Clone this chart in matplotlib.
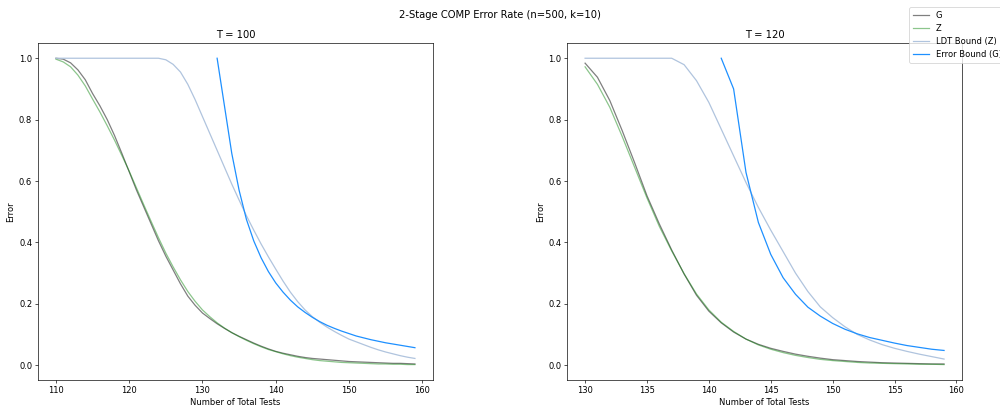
import numpy as np
import matplotlib
matplotlib.use("Agg")
import matplotlib.pyplot as plt

# T = 100 panel
tests_100 = list(range(110, 160))
g_100 = [1.0, 0.997, 0.985, 0.962, 0.93, 0.885, 0.845, 0.8, 0.748, 0.69,
         0.63, 0.57, 0.515, 0.46, 0.405, 0.355, 0.31, 0.265, 0.225, 0.195,
         0.17, 0.152, 0.135, 0.12, 0.106, 0.094, 0.083, 0.072, 0.062, 0.053,
         0.045, 0.039, 0.034, 0.029, 0.025, 0.022, 0.02, 0.018, 0.016, 0.014,
         0.012, 0.011, 0.01, 0.009, 0.008, 0.007, 0.006, 0.006, 0.005, 0.004]
z_100 = [0.997, 0.988, 0.972, 0.945, 0.91, 0.867, 0.825, 0.78, 0.733, 0.683,
         0.632, 0.577, 0.522, 0.468, 0.415, 0.365, 0.32, 0.278, 0.24, 0.208,
         0.18, 0.158, 0.138, 0.121, 0.106, 0.093, 0.081, 0.07, 0.06, 0.051,
         0.044, 0.037, 0.031, 0.026, 0.022, 0.018, 0.015, 0.013, 0.011, 0.009,
         0.008, 0.007, 0.006, 0.005, 0.004, 0.004, 0.003, 0.003, 0.002, 0.002]
ldt_100 = [1.0, 1.0, 1.0, 1.0, 1.0, 1.0, 1.0, 1.0, 1.0, 1.0,
           1.0, 1.0, 1.0, 1.0, 1.0, 0.995, 0.98, 0.955, 0.915, 0.865,
           0.81, 0.755, 0.7, 0.645, 0.59, 0.538, 0.487, 0.44, 0.395, 0.353,
           0.313, 0.274, 0.238, 0.207, 0.18, 0.158, 0.14, 0.124, 0.11, 0.097,
           0.085, 0.076, 0.067, 0.058, 0.05, 0.043, 0.037, 0.031, 0.026, 0.022]
bound_tests_100 = list(range(132, 160))
bound_100 = [1.0, 0.845, 0.69, 0.57, 0.475, 0.405, 0.35, 0.305, 0.268, 0.238,
             0.212, 0.19, 0.172, 0.156, 0.142, 0.13, 0.12, 0.111, 0.103, 0.095,
             0.089, 0.083, 0.078, 0.073, 0.069, 0.065, 0.061, 0.057]

# T = 120 panel
tests_120 = list(range(130, 160))
g_120 = [0.984, 0.938, 0.862, 0.764, 0.66, 0.552, 0.46, 0.375, 0.297, 0.228,
         0.176, 0.138, 0.108, 0.085, 0.068, 0.055, 0.045, 0.036, 0.029, 0.023,
         0.018, 0.015, 0.012, 0.01, 0.008, 0.007, 0.006, 0.005, 0.004, 0.004]
z_120 = [0.972, 0.915, 0.84, 0.745, 0.645, 0.545, 0.452, 0.372, 0.298, 0.232,
         0.18, 0.14, 0.11, 0.085, 0.066, 0.052, 0.041, 0.032, 0.025, 0.019,
         0.015, 0.012, 0.009, 0.007, 0.006, 0.005, 0.004, 0.003, 0.003, 0.002]
ldt_120 = [1.0, 1.0, 1.0, 1.0, 1.0, 1.0, 1.0, 1.0, 0.979, 0.927,
           0.856, 0.769, 0.682, 0.595, 0.514, 0.44, 0.37, 0.3, 0.24, 0.19,
           0.155, 0.125, 0.1, 0.082, 0.067, 0.055, 0.045, 0.036, 0.028, 0.02]
bound_tests_120 = list(range(141, 160))
bound_120 = [1.0, 0.9, 0.628, 0.465, 0.361, 0.285, 0.231, 0.189, 0.16, 0.136,
             0.117, 0.102, 0.09, 0.081, 0.072, 0.064, 0.058, 0.052, 0.048]

panels = [
    ("T = 100", tests_100, g_100, z_100, ldt_100, bound_tests_100, bound_100, np.arange(110, 161, 10)),
    ("T = 120", tests_120, g_120, z_120, ldt_120, bound_tests_120, bound_120, np.arange(130, 161, 5)),
]

fig, axes = plt.subplots(1, 2, figsize=(1000 / 60, 405 / 60), dpi=60)
fig.subplots_adjust(left=0.038, right=0.962, bottom=0.062, top=0.894, wspace=0.34)

for ax, (title, x, g, z, ldt, bx, bnd, xt) in zip(axes, panels):
    ax.plot(x, g, color="black", alpha=0.5, label="G")
    ax.plot(x, z, color="green", alpha=0.45, label="Z")
    ax.plot(x, ldt, color="lightsteelblue", label="LDT Bound (Z)")
    ax.plot(bx, bnd, color="dodgerblue", label="Error Bound (G)")
    ax.set_title(title)
    ax.set_xlabel("Number of Total Tests")
    ax.set_ylabel("Error")
    ax.set_xticks(xt)

handles, labels = axes[0].get_legend_handles_labels()
fig.legend(handles, labels, loc="upper left", bbox_to_anchor=(0.905, 0.992))
fig.suptitle("2-Stage COMP Error Rate (n=500, k=10)", y=0.975)

fig.savefig("out.png", dpi=60)
